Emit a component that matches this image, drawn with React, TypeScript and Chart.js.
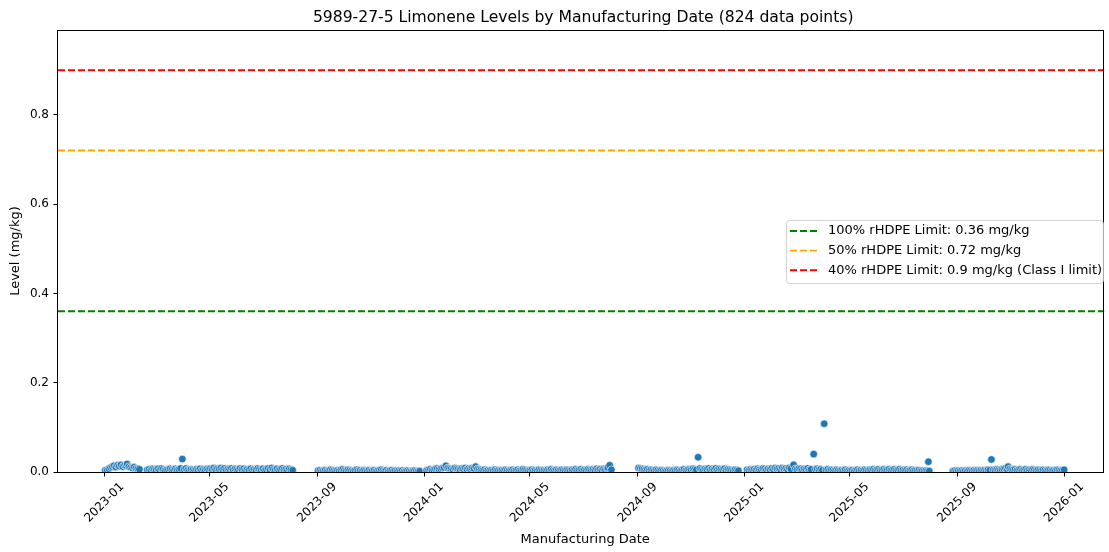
import React, { useEffect, useRef } from "react";
import { Chart, registerables } from "chart.js";

Chart.register(...registerables);

const chartTitle = "5989-27-5 Limonene Levels by Manufacturing Date (824 data points)";
const xAxisTitle = "Manufacturing Date";
const yAxisTitle = "Level (mg/kg)";
const xTickLabels = ["2023-01", "2023-05", "2023-09", "2024-01", "2024-05", "2024-09", "2025-01", "2025-05", "2025-09", "2026-01"];
const yTickValues = [0, 0.2, 0.4, 0.6, 0.8];
const xRangeStart = "2022-11-09";
const xRangeEnd = "2026-02-16";
const yRangeMax = 0.99;

const limitLabels = [
  "100% rHDPE Limit: 0.36 mg/kg",
  "50% rHDPE Limit: 0.72 mg/kg",
  "40% rHDPE Limit: 0.9 mg/kg (Class I limit)",
];
const limitValues = [0.36, 0.72, 0.9];
const limitColors = ["#008000", "#FFA500", "#FF0000"];

const run2023A: [string, number][] = [
  ["2023-01-02", .004], ["2023-01-04", .005], ["2023-01-06", .007], ["2023-01-08", .010], ["2023-01-10", .012],
  ["2023-01-12", .014], ["2023-01-14", .011], ["2023-01-16", .015], ["2023-01-18", .013], ["2023-01-20", .016],
  ["2023-01-22", .012], ["2023-01-24", .015], ["2023-01-26", .014], ["2023-01-27", .018], ["2023-01-29", .012],
  ["2023-01-31", .010], ["2023-02-02", .009], ["2023-02-04", .011], ["2023-02-06", .008], ["2023-02-08", .007],
  ["2023-02-10", .006], ["2023-02-19", .005], ["2023-02-21", .006], ["2023-02-23", .004], ["2023-02-25", .007],
  ["2023-02-27", .006], ["2023-03-01", .005], ["2023-03-03", .007], ["2023-03-05", .004], ["2023-03-07", .008],
  ["2023-03-09", .006], ["2023-03-11", .004], ["2023-03-13", .005], ["2023-03-15", .006], ["2023-03-17", .007],
  ["2023-03-19", .005], ["2023-03-21", .004], ["2023-03-23", .007], ["2023-03-25", .005], ["2023-03-27", .006],
  ["2023-03-29", .008], ["2023-03-31", .029], ["2023-04-02", .006], ["2023-04-04", .008], ["2023-04-06", .005],
  ["2023-04-08", .004], ["2023-04-10", .006], ["2023-04-12", .005], ["2023-04-14", .004], ["2023-04-16", .006],
  ["2023-04-18", .005], ["2023-04-20", .007], ["2023-04-22", .004], ["2023-04-24", .006], ["2023-04-26", .005],
  ["2023-04-28", .007], ["2023-04-30", .006], ["2023-05-02", .008], ["2023-05-04", .007], ["2023-05-06", .009],
  ["2023-05-08", .006], ["2023-05-10", .008], ["2023-05-12", .007], ["2023-05-14", .009], ["2023-05-16", .006],
  ["2023-05-18", .008], ["2023-05-20", .005], ["2023-05-22", .007], ["2023-05-24", .006], ["2023-05-26", .008],
  ["2023-05-28", .005], ["2023-05-30", .007], ["2023-06-01", .006], ["2023-06-03", .005], ["2023-06-05", .008],
  ["2023-06-07", .006], ["2023-06-09", .007], ["2023-06-11", .004], ["2023-06-13", .006], ["2023-06-15", .005],
  ["2023-06-17", .007], ["2023-06-19", .004], ["2023-06-21", .006], ["2023-06-23", .005], ["2023-06-25", .008],
  ["2023-06-27", .006], ["2023-06-29", .005], ["2023-07-01", .007], ["2023-07-03", .004], ["2023-07-05", .006],
  ["2023-07-07", .008], ["2023-07-09", .005], ["2023-07-11", .009], ["2023-07-13", .006], ["2023-07-15", .005],
  ["2023-07-17", .007], ["2023-07-19", .004], ["2023-07-21", .006], ["2023-07-23", .008], ["2023-07-25", .005],
  ["2023-07-27", .006], ["2023-07-29", .004], ["2023-07-31", .007], ["2023-08-02", .005], ["2023-08-04", .004],
];

const run2023B: [string, number][] = [
  ["2023-09-02", .003], ["2023-09-04", .004], ["2023-09-06", .002], ["2023-09-08", .003], ["2023-09-10", .004],
  ["2023-09-12", .002], ["2023-09-14", .003], ["2023-09-16", .005], ["2023-09-18", .004], ["2023-09-20", .003],
  ["2023-09-22", .002], ["2023-09-24", .004], ["2023-09-26", .003], ["2023-09-28", .005], ["2023-09-30", .006],
  ["2023-10-02", .004], ["2023-10-04", .003], ["2023-10-06", .005], ["2023-10-08", .004], ["2023-10-10", .003],
  ["2023-10-12", .002], ["2023-10-14", .004], ["2023-10-16", .005], ["2023-10-18", .003], ["2023-10-20", .004],
  ["2023-10-22", .002], ["2023-10-24", .004], ["2023-10-26", .003], ["2023-10-28", .002], ["2023-10-30", .004],
  ["2023-11-01", .002], ["2023-11-03", .003], ["2023-11-05", .004], ["2023-11-07", .002], ["2023-11-09", .003],
  ["2023-11-11", .004], ["2023-11-13", .005], ["2023-11-15", .003], ["2023-11-17", .002], ["2023-11-19", .004],
  ["2023-11-21", .002], ["2023-11-23", .003], ["2023-11-25", .004], ["2023-11-27", .002], ["2023-11-29", .003],
  ["2023-12-01", .002], ["2023-12-03", .003], ["2023-12-05", .002], ["2023-12-07", .003], ["2023-12-09", .001],
  ["2023-12-11", .002], ["2023-12-13", .003], ["2023-12-15", .002], ["2023-12-17", .001], ["2023-12-19", .002],
  ["2023-12-21", .003], ["2023-12-23", .002], ["2023-12-25", .001], ["2023-12-27", .002],
];

const run2024A: [string, number][] = [
  ["2024-01-04", .004], ["2024-01-06", .005], ["2024-01-08", .006], ["2024-01-10", .004], ["2024-01-12", .005],
  ["2024-01-14", .007], ["2024-01-16", .008], ["2024-01-18", .006], ["2024-01-20", .007], ["2024-01-22", .009],
  ["2024-01-24", .010], ["2024-01-26", .014], ["2024-01-28", .009], ["2024-01-30", .008], ["2024-02-01", .007],
  ["2024-02-03", .006], ["2024-02-05", .009], ["2024-02-07", .008], ["2024-02-09", .007], ["2024-02-11", .006],
  ["2024-02-13", .008], ["2024-02-15", .007], ["2024-02-17", .009], ["2024-02-19", .006], ["2024-02-21", .008],
  ["2024-02-23", .007], ["2024-02-25", .009], ["2024-02-27", .008], ["2024-02-29", .012], ["2024-03-02", .007],
  ["2024-03-04", .006], ["2024-03-06", .005], ["2024-03-08", .004], ["2024-03-10", .005], ["2024-03-12", .003],
  ["2024-03-14", .004], ["2024-03-16", .003], ["2024-03-18", .004], ["2024-03-20", .003], ["2024-03-22", .005],
  ["2024-03-24", .003], ["2024-03-26", .004], ["2024-03-28", .003], ["2024-03-30", .004], ["2024-04-01", .003],
  ["2024-04-03", .005], ["2024-04-05", .004], ["2024-04-07", .003], ["2024-04-09", .004], ["2024-04-11", .005],
  ["2024-04-13", .003], ["2024-04-15", .004], ["2024-04-17", .005], ["2024-04-19", .003], ["2024-04-21", .004],
  ["2024-04-23", .006], ["2024-04-25", .005], ["2024-04-27", .004], ["2024-04-29", .003], ["2024-05-01", .004],
  ["2024-05-03", .005], ["2024-05-05", .003], ["2024-05-07", .004], ["2024-05-09", .003], ["2024-05-11", .005],
  ["2024-05-13", .004], ["2024-05-15", .003], ["2024-05-17", .004], ["2024-05-19", .003], ["2024-05-21", .005],
  ["2024-05-23", .004], ["2024-05-25", .006], ["2024-05-27", .004], ["2024-05-29", .003], ["2024-05-31", .005],
  ["2024-06-02", .004], ["2024-06-04", .003], ["2024-06-06", .005], ["2024-06-08", .004], ["2024-06-10", .003],
  ["2024-06-12", .005], ["2024-06-14", .004], ["2024-06-16", .003], ["2024-06-18", .005], ["2024-06-20", .004],
  ["2024-06-22", .006], ["2024-06-24", .004], ["2024-06-26", .005], ["2024-06-28", .006], ["2024-06-30", .004],
  ["2024-07-02", .005], ["2024-07-04", .004], ["2024-07-06", .006], ["2024-07-08", .005], ["2024-07-10", .004],
  ["2024-07-12", .006], ["2024-07-14", .005], ["2024-07-16", .007], ["2024-07-18", .005], ["2024-07-20", .006],
  ["2024-07-22", .004], ["2024-07-24", .007], ["2024-07-26", .006], ["2024-07-28", .008], ["2024-07-29", .010],
  ["2024-07-31", .015], ["2024-08-02", .005],
];

const run2024B: [string, number][] = [
  ["2024-09-02", .009], ["2024-09-04", .008], ["2024-09-06", .007], ["2024-09-08", .006], ["2024-09-10", .005],
  ["2024-09-12", .006], ["2024-09-14", .004], ["2024-09-16", .005], ["2024-09-18", .004], ["2024-09-20", .003],
  ["2024-09-22", .005], ["2024-09-24", .004], ["2024-09-26", .003], ["2024-09-28", .004], ["2024-09-30", .003],
  ["2024-10-02", .002], ["2024-10-04", .003], ["2024-10-06", .004], ["2024-10-08", .003], ["2024-10-10", .002],
  ["2024-10-12", .004], ["2024-10-14", .003], ["2024-10-16", .005], ["2024-10-18", .004], ["2024-10-20", .003],
  ["2024-10-22", .005], ["2024-10-24", .006], ["2024-10-26", .004], ["2024-10-28", .005], ["2024-10-30", .006],
  ["2024-11-01", .005], ["2024-11-03", .007], ["2024-11-05", .006], ["2024-11-07", .005], ["2024-11-09", .033],
  ["2024-11-11", .008], ["2024-11-13", .006], ["2024-11-15", .005], ["2024-11-17", .007], ["2024-11-19", .006],
  ["2024-11-21", .008], ["2024-11-23", .005], ["2024-11-25", .007], ["2024-11-27", .006], ["2024-11-29", .008],
  ["2024-12-01", .005], ["2024-12-03", .007], ["2024-12-05", .006], ["2024-12-07", .005], ["2024-12-09", .007],
  ["2024-12-11", .004], ["2024-12-13", .006], ["2024-12-15", .005], ["2024-12-17", .004], ["2024-12-19", .003],
  ["2024-12-21", .005], ["2024-12-23", .004], ["2024-12-25", .003],
];

const run2025A: [string, number][] = [
  ["2025-01-04", .005], ["2025-01-06", .004], ["2025-01-08", .006], ["2025-01-10", .005], ["2025-01-12", .006],
  ["2025-01-14", .004], ["2025-01-16", .007], ["2025-01-18", .005], ["2025-01-20", .006], ["2025-01-22", .008],
  ["2025-01-24", .007], ["2025-01-26", .005], ["2025-01-28", .007], ["2025-01-30", .006], ["2025-02-01", .008],
  ["2025-02-03", .006], ["2025-02-05", .009], ["2025-02-07", .007], ["2025-02-09", .008], ["2025-02-11", .006],
  ["2025-02-13", .009], ["2025-02-15", .007], ["2025-02-17", .008], ["2025-02-19", .006], ["2025-02-21", .009],
  ["2025-02-23", .007], ["2025-02-26", .016], ["2025-02-28", .007], ["2025-03-02", .006], ["2025-03-04", .008],
  ["2025-03-06", .007], ["2025-03-08", .005], ["2025-03-10", .007], ["2025-03-12", .006], ["2025-03-14", .008],
  ["2025-03-16", .005], ["2025-03-18", .006], ["2025-03-21", .040], ["2025-03-23", .006], ["2025-03-25", .007],
  ["2025-03-27", .005], ["2025-03-29", .006], ["2025-03-31", .004], ["2025-04-02", .108], ["2025-04-04", .005],
  ["2025-04-06", .006], ["2025-04-08", .004], ["2025-04-10", .005], ["2025-04-12", .004], ["2025-04-14", .003],
  ["2025-04-16", .005], ["2025-04-18", .004], ["2025-04-20", .003], ["2025-04-22", .004], ["2025-04-24", .003],
  ["2025-04-26", .005], ["2025-04-28", .003], ["2025-04-30", .004], ["2025-05-02", .003], ["2025-05-04", .004],
  ["2025-05-06", .002], ["2025-05-08", .004], ["2025-05-10", .005], ["2025-05-12", .003], ["2025-05-14", .004],
  ["2025-05-16", .003], ["2025-05-18", .005], ["2025-05-20", .004], ["2025-05-22", .003], ["2025-05-24", .005],
  ["2025-05-26", .004], ["2025-05-28", .006], ["2025-05-30", .004], ["2025-06-01", .005], ["2025-06-03", .006],
  ["2025-06-05", .004], ["2025-06-07", .005], ["2025-06-09", .006], ["2025-06-11", .004], ["2025-06-13", .005],
  ["2025-06-15", .006], ["2025-06-17", .004], ["2025-06-19", .005], ["2025-06-21", .006], ["2025-06-23", .004],
  ["2025-06-25", .005], ["2025-06-27", .006], ["2025-06-29", .004], ["2025-07-01", .005], ["2025-07-03", .004],
  ["2025-07-05", .005], ["2025-07-07", .003], ["2025-07-09", .004], ["2025-07-11", .005], ["2025-07-13", .003],
  ["2025-07-15", .004], ["2025-07-17", .003], ["2025-07-19", .004], ["2025-07-21", .002], ["2025-07-23", .003],
  ["2025-07-25", .002], ["2025-07-27", .003], ["2025-07-29", .002], ["2025-07-30", .023], ["2025-07-31", .002],
];

const run2025B: [string, number][] = [
  ["2025-08-27", .002], ["2025-08-29", .003], ["2025-08-31", .002], ["2025-09-02", .003], ["2025-09-04", .002],
  ["2025-09-06", .003], ["2025-09-08", .002], ["2025-09-10", .003], ["2025-09-12", .002], ["2025-09-14", .004],
  ["2025-09-16", .003], ["2025-09-18", .002], ["2025-09-20", .004], ["2025-09-22", .003], ["2025-09-24", .004],
  ["2025-09-26", .003], ["2025-09-28", .004], ["2025-09-30", .003], ["2025-10-02", .004], ["2025-10-04", .003],
  ["2025-10-06", .005], ["2025-10-08", .004], ["2025-10-10", .028], ["2025-10-12", .005], ["2025-10-14", .004],
  ["2025-10-16", .006], ["2025-10-18", .005], ["2025-10-20", .004], ["2025-10-22", .006], ["2025-10-24", .007],
  ["2025-10-26", .008], ["2025-10-28", .006], ["2025-10-29", .012], ["2025-10-31", .007], ["2025-11-02", .006],
  ["2025-11-04", .005], ["2025-11-06", .006], ["2025-11-08", .004], ["2025-11-10", .005], ["2025-11-12", .006],
  ["2025-11-14", .004], ["2025-11-16", .005], ["2025-11-18", .006], ["2025-11-20", .004], ["2025-11-22", .005],
  ["2025-11-24", .004], ["2025-11-26", .006], ["2025-11-28", .005], ["2025-11-30", .004], ["2025-12-02", .005],
  ["2025-12-04", .004], ["2025-12-06", .003], ["2025-12-08", .005], ["2025-12-10", .004], ["2025-12-12", .003],
  ["2025-12-14", .005], ["2025-12-16", .004], ["2025-12-18", .003], ["2025-12-20", .004], ["2025-12-22", .003],
  ["2025-12-24", .005], ["2025-12-26", .004], ["2025-12-28", .003], ["2025-12-30", .004], ["2026-01-01", .005],
];

const measurementRuns = [run2023A, run2023B, run2024A, run2024B, run2025A, run2025B];

const FONT = "'DejaVu Sans', 'Liberation Sans', sans-serif";
const toMs = (d: string) => new Date(d + "T00:00:00Z").getTime();

const decorPlugin = {
  id: "mplDecor",
  afterDatasetsDraw(chart: any) {
    const ctx: CanvasRenderingContext2D = chart.ctx;
    const area = chart.chartArea;
    const xs = chart.scales.x;
    const ys = chart.scales.y;
    ctx.save();
    // spines
    ctx.strokeStyle = "#000";
    ctx.lineWidth = 1;
    ctx.strokeRect(Math.round(area.left) - 0.5, Math.round(area.top) + 0.5, Math.round(area.right - area.left), Math.round(area.bottom - area.top));

    ctx.fillStyle = "#000";
    // title
    ctx.font = `15.6px ${FONT}`;
    ctx.textAlign = "center";
    ctx.textBaseline = "alphabetic";
    ctx.fillText(chartTitle, (area.left + area.right) / 2 + 2, area.top - 8);

    // y tick labels
    ctx.font = `12px ${FONT}`;
    ctx.textAlign = "right";
    ctx.textBaseline = "middle";
    yTickValues.forEach((v) => {
      ctx.fillText(v.toFixed(1), area.left - 9, ys.getPixelForValue(v));
    });

    // x tick labels rotated 45, centered
    xTickLabels.forEach((lab) => {
      const px = xs.getPixelForValue(toMs(lab + "-01"));
      const w = ctx.measureText(lab).width;
      const h = 14;
      const half = ((w + h) * Math.SQRT1_2) / 2;
      ctx.save();
      ctx.translate(px, area.bottom + 8 + half);
      ctx.rotate(-Math.PI / 4);
      ctx.textAlign = "center";
      ctx.textBaseline = "middle";
      ctx.fillText(lab, 0, 0);
      ctx.restore();
    });

    // axis titles
    ctx.font = `13px ${FONT}`;
    ctx.textAlign = "center";
    ctx.textBaseline = "middle";
    ctx.fillText(xAxisTitle, (area.left + area.right) / 2 + 4, 540);
    ctx.save();
    ctx.translate(16, (area.top + area.bottom) / 2);
    ctx.rotate(-Math.PI / 2);
    ctx.fillText(yAxisTitle, 0, 0);
    ctx.restore();

    // legend
    const items = chart.data.datasets.filter((d: any) => d.isLimit);
    const maxW = Math.max(...items.map((d: any) => ctx.measureText(d.label).width));
    const rowH = 19.6;
    const boxH = 63;
    const boxTop = 220;
    const textX = 828;
    const boxLeft = 786;
    const boxRight = Math.min(textX + maxW + 6, area.right - 1.5);
    ctx.beginPath();
    (ctx as any).roundRect(boxLeft + 0.5, boxTop + 0.5, boxRight - boxLeft, boxH, 3);
    ctx.fillStyle = "rgba(255,255,255,0.8)";
    ctx.fill();
    ctx.strokeStyle = "rgba(204,204,204,0.8)";
    ctx.lineWidth = 1;
    ctx.stroke();
    items.forEach((d: any, i: number) => {
      const cy = boxTop + 11 + i * rowH;
      ctx.beginPath();
      ctx.setLineDash(d.borderDash);
      ctx.strokeStyle = d.borderColor;
      ctx.lineWidth = d.borderWidth;
      ctx.moveTo(790, cy);
      ctx.lineTo(818, cy);
      ctx.stroke();
      ctx.setLineDash([]);
      ctx.fillStyle = "#000";
      ctx.textAlign = "left";
      ctx.textBaseline = "middle";
      ctx.fillText(d.label, textX, cy);
    });
    ctx.restore();
  },
};

export default function App() {
  const ref = useRef<HTMLCanvasElement | null>(null);
  useEffect(() => {
    document.body.style.margin = "0";
    const xMin = toMs(xRangeStart);
    const xMax = toMs(xRangeEnd);
    const points = measurementRuns.flat().map(([d, v]) => ({ x: toMs(d), y: v }));
    const limitSets = limitValues.map((v, i) => ({
      type: "line" as const,
      label: limitLabels[i],
      isLimit: true,
      data: [{ x: xMin, y: v }, { x: xMax, y: v }],
      borderColor: limitColors[i],
      borderWidth: 1.9,
      borderDash: [7, 3],
      pointRadius: 0,
      fill: false,
      tension: 0,
    }));
    const chart = new Chart(ref.current as HTMLCanvasElement, {
      type: "scatter",
      data: {
        datasets: [
          ...limitSets,
          {
            type: "scatter" as const,
            label: "Level",
            data: points,
            backgroundColor: "#1f77b4",
            borderColor: "#ffffff",
            borderWidth: 0.6,
            pointRadius: 3.8,
            clip: 0,
          } as any,
        ],
      },
      options: {
        animation: false,
        responsive: false,
        events: [],
        layout: { padding: { top: 30, right: 1, left: 0, bottom: 0 } },
        plugins: { legend: { display: false }, tooltip: { enabled: false }, title: { display: false } },
        scales: {
          x: {
            type: "linear",
            min: xMin,
            max: xMax,
            ticks: { display: false },
            border: { display: false },
            grid: { drawOnChartArea: false, drawTicks: true, tickLength: 4.5, color: "#000", lineWidth: 1 },
            afterBuildTicks: (s: any) => {
              s.ticks = xTickLabels.map((l) => ({ value: toMs(l + "-01") }));
            },
            afterFit: (s: any) => {
              s.height = 80;
            },
          },
          y: {
            type: "linear",
            min: 0,
            max: yRangeMax,
            ticks: { display: false },
            border: { display: false },
            grid: { drawOnChartArea: false, drawTicks: true, tickLength: 4.5, color: "#000", lineWidth: 1 },
            afterBuildTicks: (s: any) => {
              s.ticks = yTickValues.map((v) => ({ value: v }));
            },
            afterFit: (s: any) => {
              s.width = 58;
            },
          },
        },
      } as any,
      plugins: [decorPlugin],
    });
    return () => chart.destroy();
  }, []);
  return (
    <div style={{ position: "fixed", left: 0, top: 0, width: 1109, height: 552, background: "#fff" }}>
      <canvas ref={ref} width={1109} height={552} style={{ width: 1109, height: 552 }} />
    </div>
  );
}
